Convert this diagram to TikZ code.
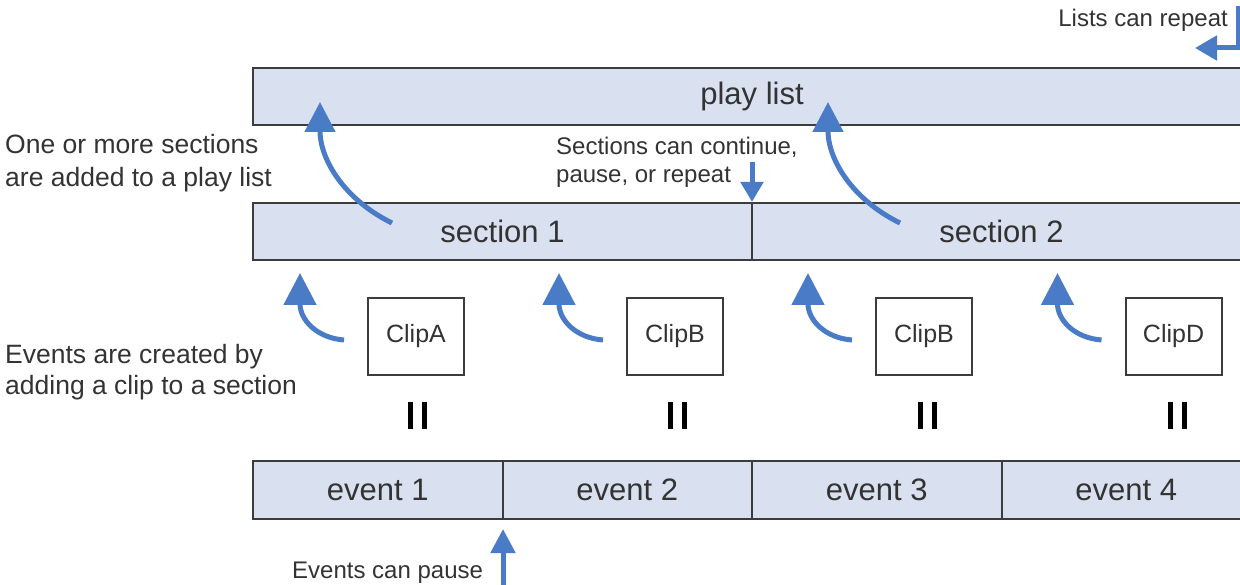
\documentclass[tikz,border=0pt]{standalone}
\usepackage{fontspec}
\setmainfont{Liberation Sans}
\usetikzlibrary{arrows.meta,calc}
\definecolor{barfill}{HTML}{D9E0F0}
\definecolor{arrowblue}{HTML}{4A7BC6}
\definecolor{edgegrey}{HTML}{3C3C3C}
\definecolor{txt}{HTML}{333333}
\begin{document}
\begin{tikzpicture}[x=1pt,y=-1pt,
  bar/.style={draw=edgegrey, line width=2pt, fill=barfill, minimum height=57pt, inner sep=0pt, text=txt, font=\fontsize{31}{36}\selectfont},
  clipbox/.style={draw=edgegrey, line width=2pt, fill=white, minimum width=96pt, minimum height=77pt, inner sep=0pt, text=txt, font=\fontsize{25}{30}\selectfont},
  note/.style={text=txt, font=\fontsize{24}{28}\selectfont, inner sep=0pt, align=left},
  side/.style={text=txt, inner sep=0pt, align=left, anchor=west},
  bigarrow/.style={draw=arrowblue, line width=5pt, -{Triangle[width=30pt,length=30pt]}},
  smallarrow/.style={draw=arrowblue, line width=5pt, -{Triangle[width=32pt,length=32pt]}},
  straightarrow/.style={draw=arrowblue, line width=5pt, -{Triangle[width=24pt,length=24pt]}},
  eqbar/.style={draw=black, line width=5pt}
]
\useasboundingbox (0,0) rectangle (1240,585);
\clip (0,0) rectangle (1240,585);

% bars
\node[bar, minimum width=998pt] (play) at (752,96.5) {play list};
\node[bar, minimum width=499pt] (sec1) at (502.5,231.5) {section 1};
\node[bar, minimum width=499pt] (sec2) at (1001.5,231.5) {section 2};
\node[bar, minimum width=249.5pt, minimum height=58pt] (ev1) at (377.75,490) {event 1};
\node[bar, minimum width=249.5pt, minimum height=58pt] (ev2) at (627.25,490) {event 2};
\node[bar, minimum width=249.5pt, minimum height=58pt] (ev3) at (876.75,490) {event 3};
\node[bar, minimum width=249.5pt, minimum height=58pt] (ev4) at (1126.25,490) {event 4};

% clips
\node[clipbox] (clipA) at (416,336.5) {ClipA};
\node[clipbox] (clipB) at (675,336.5) {ClipB};
\node[clipbox] (clipC) at (924,336.5) {ClipB};
\node[clipbox] (clipD) at (1173.5,336.5) {ClipD};

% equivalence bars
\foreach \cx in {417.5,677.5,927.5,1177.5}{
  \draw[eqbar] (\cx-7,402) -- (\cx-7,429);
  \draw[eqbar] (\cx+7,402) -- (\cx+7,429);
}

% small curved arrows clip -> section
\foreach \c in {clipA,clipB,clipC,clipD}{
  \coordinate (\c tail) at ($(\c.west)+(-23,3.5)$);
  \coordinate (\c tip) at ($(\c.west)+(-67,-63.5)$);
  \draw[smallarrow] (\c tail) .. controls +(-27,-2) and +(0,47) .. (\c tip);
}

% big curved arrows section -> play list
\coordinate (s1tail) at (392,223);
\coordinate (s1tip) at (320,102);
\coordinate (s2tail) at (900,223);
\coordinate (s2tip) at (828,102);
\draw[bigarrow] (s1tail) .. controls +(-47,-23) and +(0,58) .. (s1tip);
\draw[bigarrow] (s2tail) .. controls +(-47,-23) and +(0,58) .. (s2tip);

% texts
\node[note, anchor=east] (listsrep) at (1228,20) {Lists can repeat};
\node[note, anchor=west] (secnote) at (556,162) {Sections can continue,\\pause, or repeat};
\node[note, anchor=west] (evnote) at (292,573) {Events can pause};
\node[side, font=\fontsize{26.5}{33}\selectfont] (sidetop) at (5,163.5) {One or more sections\\are added to a play list};
\node[side, font=\fontsize{26.5}{31}\selectfont] (sidebot) at (5,372.5) {Events are created by\\adding a clip to a section};

% straight arrows
\coordinate (secstart) at (752,162);
\coordinate (sectip) at (secstart |- sec1.north);
\draw[draw=arrowblue, line width=5pt, -{Triangle[width=22pt,length=20pt]}] (secstart) -- (sectip);
\coordinate (evstart) at (503,592);
\coordinate (evtip) at ($(evstart |- ev1.south)+(0,9)$);
\draw[straightarrow] (evstart) -- (evtip);
\coordinate (lstart) at (1238,6);
\coordinate (lcorner) at (1238,48);
\coordinate (ltip) at (1195,48);
\draw[draw=arrowblue, line width=5pt, line join=miter, -{Triangle[width=24pt,length=22pt]}] (lstart) -- (lcorner) -- (ltip);
\end{tikzpicture}
\end{document}
